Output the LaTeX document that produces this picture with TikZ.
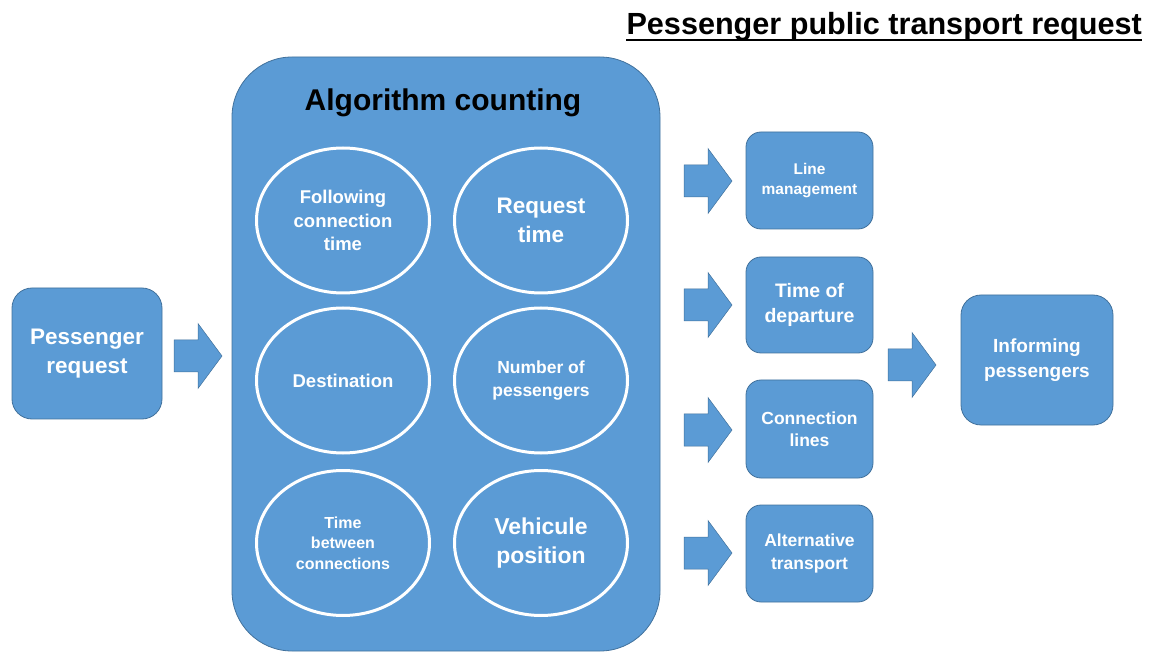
\documentclass[tikz,border=0pt]{standalone}
\usepackage{fontspec}
\setmainfont{Liberation Sans}
\usetikzlibrary{shapes.geometric}
\definecolor{boxblue}{HTML}{5B9BD5}
\definecolor{boxline}{HTML}{41719C}
\newcommand{\fs}[1]{\fontsize{#1}{1.28\dimexpr #1pt\relax}\selectfont}
\tikzset{
  box/.style={draw=boxline, line width=0.8pt, fill=boxblue, rounded corners=#1, text=white, font=\bfseries, align=center, inner sep=0pt},
  ell/.style={ellipse, draw=white, line width=3pt, minimum width=173pt, minimum height=145pt, text=white, font=\bfseries, align=center, inner sep=0pt},
  blockarrow/.style={fill=boxblue, draw=boxline, line width=0.5pt}
}
\newcommand{\blkarrow}[2]{%
  \path[blockarrow] (#1,#2-16) -- (#1+24,#2-16) -- (#1+24,#2-32.5) -- (#1+48,#2) -- (#1+24,#2+32.5) -- (#1+24,#2+16) -- (#1,#2+16) -- cycle;}
\begin{document}
\begin{tikzpicture}[x=1pt,y=-1pt]
\useasboundingbox (0,0) rectangle (1152,652);
% title
\node[anchor=base east, inner sep=0pt, font=\bfseries\fs{30.6}] (title) at (1142,35) {Pessenger public transport request};
\draw[line width=2pt] ([yshift=-5pt]title.base west) -- ([yshift=-5pt]title.base east);
% left box
\node[box=20pt, minimum width=150pt, minimum height=131pt, font=\bfseries\fs{22.5}] (req) at (87,353.5) {Pessenger\\request};
\blkarrow{174}{356}
% big box
\node[box=60pt, minimum width=428pt, minimum height=594pt] (algo) at (446,354) {};
\node[font=\bfseries\fs{30}, inner sep=0pt] (algotitle) at (443,103) {Algorithm counting};
% ellipses
\node[ell, font=\bfseries\fs{18.5}] (e1) at (343,220.5) {Following\\connection\\time};
\node[ell, font=\bfseries\fs{22.5}] (e2) at (541,220.5) {Request\\time};
\node[ell, font=\bfseries\fs{18.5}] (e3) at (343,380.5) {Destination};
\node[ell, font=\bfseries\fs{17.5}] (e4) at (541,380.5) {Number of\\pessengers};
\node[ell, font=\bfseries\fs{16}] (e5) at (343,543) {Time\\between\\connections};
\node[ell, font=\bfseries\fs{23}] (e6) at (541,543) {Vehicule\\position};
% small arrows and boxes
\blkarrow{684}{181}
\blkarrow{684}{305}
\blkarrow{684}{430}
\blkarrow{684}{553}
\node[box=15pt, minimum width=127pt, minimum height=97pt, font=\bfseries\fs{15.5}] (b1) at (809.5,180.5) {Line\\management};
\node[box=15pt, minimum width=127pt, minimum height=96pt, font=\bfseries\fs{19.5}] (b2) at (809.5,305) {Time of\\departure};
\node[box=15pt, minimum width=127pt, minimum height=98pt, font=\bfseries\fs{17.5}] (b3) at (809.5,429) {Connection\\lines};
\node[box=15pt, minimum width=127pt, minimum height=97pt, font=\bfseries\fs{17.5}] (b4) at (809.5,553.5) {Alternative\\transport};
% right
\blkarrow{888}{365}
\node[box=20pt, minimum width=152pt, minimum height=130pt, font=\bfseries\fs{19}] (inf) at (1037,360) {Informing\\pessengers};
\end{tikzpicture}
\end{document}
